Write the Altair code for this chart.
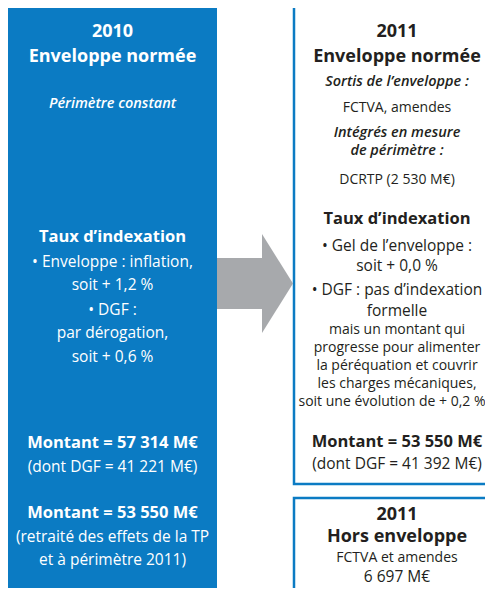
import altair as alt
import pandas as pd

# ---------------- content ----------------
left_text = [
    "2010", "Enveloppe normée", "Périmètre constant",
    "Taux d’indexation", "• Enveloppe : inflation,", "soit + 1,2 %",
    "• DGF :", "par dérogation,", "soit + 0,6 %",
    "Montant = 57 314 M€", "(dont DGF = 41 221 M€)",
    "Montant = 53 550 M€", "(retraité des effets de la TP", "et à périmètre 2011)",
]
left_style = [
    "title", "title", "italic",
    "head", "body", "body",
    "body", "body", "body",
    "head", "body",
    "head", "body", "body",
]

right_text = [
    "2011", "Enveloppe normée", "Sortis de l’enveloppe :", "FCTVA, amendes",
    "Intégrés en mesure", "de périmètre :", "DCRTP (2 530 M€)",
    "Taux d’indexation", "• Gel de l’enveloppe :", "soit + 0,0 %",
    "• DGF : pas d’indexation", "formelle",
    "mais un montant qui", "progresse pour alimenter", "la péréquation et couvrir",
    "les charges mécaniques,", "soit une évolution de + 0,2 %",
    "Montant = 53 550 M€", "(dont DGF = 41 392 M€)",
]
right_style = [
    "title", "title", "italic", "small",
    "italic", "italic", "small",
    "head", "body", "body",
    "body", "body",
    "small", "small", "small",
    "small", "small",
    "head", "body",
]

hors_text = ["2011", "Hors enveloppe", "FCTVA et amendes", "6 697 M€"]
hors_style = ["title", "title", "small", "body"]

# ---------------- layout (pixels of the picture) ----------------
W, H = 477, 580
X0, Y0 = 8, 8
left_y = [32, 57, 104, 237, 262, 285, 310, 333, 357, 443, 467, 513, 537, 560]
right_y = [32, 57, 82, 108, 133, 151, 180, 219, 246, 266, 290, 310.5,
           330, 348, 366, 384, 402, 442, 464]
hors_y = [515, 537, 558, 577]
left_cx, right_cx = 112.5, 397
right_x = [right_cx] * len(right_text)
right_x[16] = 392  # keep the widest line inside the visible page

BLUE = "#0b7bc3"
GREY = "#a7a9ac"
DARK = "#231f20"
FONT = "Open Sans"

styles = {
    "title": dict(fontSize=18, fontWeight="bold", fontStyle="normal"),
    "head": dict(fontSize=16.5, fontWeight="bold", fontStyle="normal"),
    "body": dict(fontSize=15.5, fontWeight="normal", fontStyle="normal"),
    "small": dict(fontSize=14, fontWeight="normal", fontStyle="normal"),
    "italic": dict(fontSize=14.5, fontWeight=600, fontStyle="italic"),
}

xs = alt.Scale(domain=[X0, X0 + W], range=[0, W], nice=False, zero=False)
ys = alt.Scale(domain=[Y0, Y0 + H], range=[0, H], nice=False, zero=False)

def X(f):
    return alt.X(f, type="quantitative", scale=xs, axis=None)

def Y(f):
    return alt.Y(f, type="quantitative", scale=ys, axis=None)

boxes = pd.DataFrame({
    "x": [8, 294, 294], "x2": [217, 502, 502],
    "y": [6, 6, 498], "y2": [620, 484, 620],
    "kind": ["fill", "frame", "frame"],
})

blue_box = alt.Chart(boxes[boxes.kind == "fill"]).mark_rect(color=BLUE).encode(
    x=X("x"), x2="x2", y=Y("y"), y2="y2")
frames = alt.Chart(boxes[boxes.kind == "frame"]).mark_rect(
    fill="white", stroke=BLUE, strokeWidth=2.5).encode(
    x=X("x"), x2="x2", y=Y("y"), y2="y2")

arrow_body = alt.Chart(pd.DataFrame({"x": [217], "x2": [263], "y": [258], "y2": [309]})).mark_rect(
    color=GREY).encode(x=X("x"), x2="x2", y=Y("y"), y2="y2")
arrow_head = alt.Chart(pd.DataFrame({"x": [262, 293], "y": [234, 283.5], "y2": [333, 283.5]})).mark_area(
    color=GREY, opacity=1).encode(x=X("x"), y=Y("y"), y2="y2")

rows = []
for t, s, y in zip(left_text, left_style, left_y):
    rows.append(dict(text=t, style=s, x=left_cx, y=y, col="white"))
for t, s, y, x in zip(right_text, right_style, right_y, right_x):
    rows.append(dict(text=t, style=s, x=x, y=y, col=DARK))
for t, s, y in zip(hors_text, hors_style, hors_y):
    rows.append(dict(text=t, style=s, x=right_cx, y=y, col=DARK))
texts = pd.DataFrame(rows)

text_layers = []
for s, props in styles.items():
    sub = texts[texts["style"] == s]
    text_layers.append(
        alt.Chart(sub).mark_text(font=FONT, align="center", baseline="middle", **props).encode(
            x=X("x"), y=Y("y"), text="text:N",
            color=alt.Color("col:N", scale=None))
    )

chart = alt.layer(blue_box, frames, arrow_body, arrow_head, *text_layers).properties(
    width=W, height=H, padding=0, autosize=alt.AutoSizeParams(type="none")
).configure_view(stroke=None)

chart.save("out.html", embed_options={"renderer": "svg", "actions": False})
